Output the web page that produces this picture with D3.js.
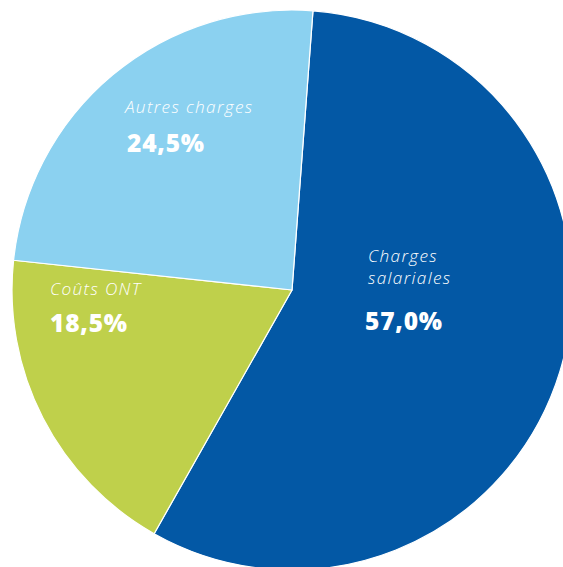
<!DOCTYPE html>
<html>
<head>
<meta charset="utf-8">
<script src="https://cdn.jsdelivr.net/npm/d3@7"></script>
<style>
  html, body { margin: 0; padding: 0; background: #ffffff; }
  svg { display: block; }
  text { fill: #ffffff; font-family: "Open Sans", "Noto Sans", sans-serif; }
</style>
</head>
<body>
<svg id="chart" width="563" height="567"></svg>
<script>
// Répartition des charges
const categories = ["Charges salariales", "Coûts ONT", "Autres charges"];
const values = [57.0, 18.5, 24.5];
const valueLabels = ["57,0%", "18,5%", "24,5%"];
const colors = ["#0358a5", "#bfd04b", "#8bd1f0"];

const width = 563, height = 567;
const cx = 292, cy = 290, radius = 280;

const svg = d3.select("#chart");
const g = svg.append("g").attr("transform", `translate(${cx},${cy})`);

const pie = d3.pie()
  .value(d => d.value)
  .sort(null)
  .startAngle(0.075)
  .endAngle(0.075 + 2 * Math.PI);

const arc = d3.arc().innerRadius(0).outerRadius(radius);

const data = categories.map((c, i) => ({ name: c, value: values[i], label: valueLabels[i], color: colors[i] }));

g.selectAll("path.slice")
  .data(pie(data))
  .join("path")
  .attr("class", "slice")
  .attr("d", arc)
  .attr("fill", d => d.data.color)
  .attr("stroke", "#ffffff")
  .attr("stroke-width", 1.2)
  .attr("stroke-linejoin", "round");

// Label blocks: name lines (italic) then value (bold), offsets from pie centre
const labelPos = {
  "Charges salariales": { x: 76, y: -28, lines: ["Charges", "salariales"], vx: 73, vy: 40 },
  "Coûts ONT": { x: -242, y: 5, lines: ["Coûts ONT"], vx: -242, vy: 42 },
  "Autres charges": { x: -167, y: -177, lines: ["Autres charges"], vx: -165, vy: -138 }
};

data.forEach(d => {
  const p = labelPos[d.name];
  p.lines.forEach((ln, i) => {
    g.append("text")
      .attr("x", p.x)
      .attr("y", p.y + i * 21.5)
      .attr("font-size", 17.2)
      .attr("font-style", "italic")
      .attr("font-weight", 300)
      .attr("letter-spacing", 1.35)
      .text(ln);
  });
  g.append("text")
    .attr("x", p.vx)
    .attr("y", p.vy)
    .attr("font-size", 24.5)
    .attr("font-weight", 800)
    .attr("letter-spacing", 0.8)
    .text(d.label);
});
</script>
</body>
</html>
